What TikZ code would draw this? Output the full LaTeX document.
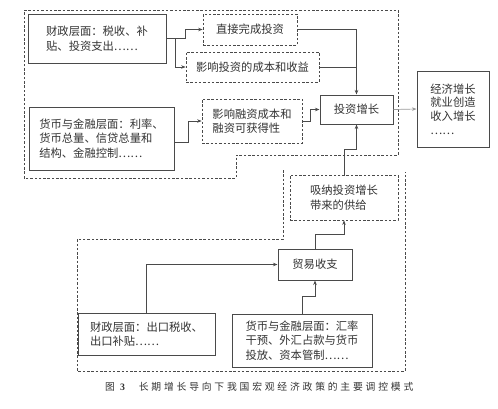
\documentclass[tikz,border=0pt]{standalone}
\usepackage{fontspec}
\newfontfamily\cjk{Noto Sans CJK SC}
\usetikzlibrary{arrows.meta}
\definecolor{txt}{HTML}{333333}
\definecolor{ln}{HTML}{4a4a4a}
\definecolor{lightln}{HTML}{9a9a9a}
\newcommand{\cg}{\hspace{2.8pt}}
\begin{document}
\begin{tikzpicture}[x=1pt,y=-1pt,
  every node/.style={font=\cjk\fontsize{11.3}{14.5}\selectfont, text=txt, inner sep=0pt, align=left},
  solidbox/.style={draw=ln, line width=1pt},
  dashbox/.style={draw=ln, line width=0.7pt, dash pattern=on 2.5pt off 1.8pt},
  arr/.style={draw=ln, line width=0.7pt, -{Stealth[length=4.5pt,width=3.5pt]}},
  plain/.style={draw=ln, line width=0.7pt},
  region/.style={draw=ln, line width=0.6pt, dash pattern=on 2.5pt off 1.8pt}]
\fill[white] (0,0) rectangle (498,408);
\useasboundingbox (0,0) rectangle (498,408);

% regions
\draw[region] (24,10) -- (398,10) -- (398,155) -- (236,155) -- (236,178) -- (24,178) -- cycle;
\draw[region] (283,170) -- (283,239) -- (77,239) -- (77,371) -- (405,371) -- (405,172);

% boxes
\node[solidbox, minimum width=138pt, minimum height=49pt] (f1) at (97,38.5) {财政层面：税收、补\\贴、投资支出……};
\node[solidbox, minimum width=145pt, minimum height=63pt] (m1) at (101.5,138.5) {货币与金融层面：利率、\\货币总量、信贷总量和\\结构、金融控制……};
\node[dashbox, minimum width=94pt, minimum height=31pt] (d1) at (250,29.5) {直接完成投资};
\node[dashbox, minimum width=133pt, minimum height=30pt] (d2) at (252.5,67) {影响投资的成本和收益};
\node[dashbox, minimum width=100pt, minimum height=44pt] (d3) at (252,121) {影响融资成本和\\融资可获得性};
\node[solidbox, minimum width=73pt, minimum height=29pt] (inv) at (356.5,109.5) {投资增长};
\node[solidbox, minimum width=72pt, minimum height=76pt, font=\cjk\fontsize{11.3}{13.7}\selectfont] (eco) at (453,109) {经济增长\\就业创造\\收入增长\\……};
\node[dashbox, minimum width=108pt, minimum height=45pt] (sup) at (344,197.5) {吸纳投资增长\\带来的供给};
\node[solidbox, minimum width=74pt, minimum height=31pt] (trade) at (315,264.5) {贸易收支};
\node[solidbox, minimum width=137pt, minimum height=42pt] (f2) at (146.5,334) {财政层面：出口税收、\\出口补贴……};
\node[solidbox, minimum width=140pt, minimum height=53pt] (m2) at (302,340.5) {货币与金融层面：汇率\\干预、外汇占款与货币\\投放、资本管制……};

% connectors
\draw[arr] (f1.east) -- ++(19,0) |- (d1.west);
\draw[arr] ([xshift=9pt]f1.east) |- (d2.west);
\draw[arr] (d1.east) -| (inv.north);
\draw[plain] (d2.east) -- (d2.east -| inv.north);
\draw[arr] ([yshift=-3.5pt]m1.east) -- ++(14,0) |- (d3.west);
\draw[arr] (d3.east) -- ++(8,0) |- (inv.west);
\draw[arr, draw=lightln] (inv.east) -- (eco.west);
\draw[arr] (sup.north) -- ++(0,-25) -| (inv.south);
\draw[arr] (trade.north) -- ++(0,-14) -| (sup.south);
\draw[arr] (f2.north) |- (trade.west);
\draw[arr] (m2.north) -- ++(0,-17) -| (trade.south);

% caption
\node[anchor=west, font=\cjk\fontsize{9.8}{12}\selectfont] (cap) at (105,387) {图\hspace{5pt}{\fontspec{Liberation Serif}\bfseries 3}\hspace{14pt}长\cg 期\cg 增\cg 长\cg 导\cg 向\cg 下\cg 我\cg 国\cg 宏\cg 观\cg 经\cg 济\cg 政\cg 策\cg 的\cg 主\cg 要\cg 调\cg 控\cg 模\cg 式};
\end{tikzpicture}
\end{document}
